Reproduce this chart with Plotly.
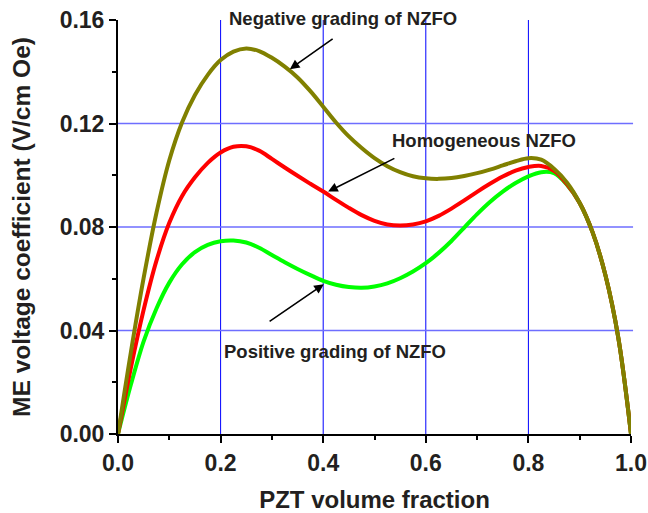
import plotly.graph_objects as go

# ---- data (x step 0.025) ----
x_vals = [round(i * 0.025, 3) for i in range(41)]
y_neg = [0, 0.0315, 0.0603, 0.0855, 0.1058, 0.1205, 0.1310, 0.1388, 0.1445, 0.1478,
         0.1490, 0.1480, 0.1454, 0.1420, 0.1378, 0.1325, 0.1265, 0.1204, 0.1150, 0.1105,
         0.1066, 0.1035, 0.1012, 0.0996, 0.0988, 0.0986, 0.0989, 0.0997, 0.1008, 0.1022,
         0.1038, 0.1054, 0.1066, 0.1060, 0.1025, 0.0972, 0.0893, 0.0780, 0.0615, 0.0375, 0]
y_hom = [0, 0.0255, 0.0480, 0.0670, 0.0816, 0.0920, 0.0992, 0.1048, 0.1088, 0.1110,
         0.1112, 0.1095, 0.1063, 0.1030, 0.0998, 0.0967, 0.0937, 0.0905, 0.0874, 0.0846,
         0.0824, 0.0810, 0.0806, 0.0810, 0.0822, 0.0843, 0.0871, 0.0903, 0.0936, 0.0967,
         0.0995, 0.1018, 0.1032, 0.1036, 0.1017, 0.0966, 0.0893, 0.0780, 0.0615, 0.0375, 0]
y_pos = [0, 0.0190, 0.0358, 0.0485, 0.0585, 0.0656, 0.0703, 0.0731, 0.0745, 0.0748,
         0.0740, 0.0720, 0.0692, 0.0664, 0.0638, 0.0614, 0.0592, 0.0577, 0.0568, 0.0565,
         0.0570, 0.0582, 0.0602, 0.0628, 0.0660, 0.0700, 0.0746, 0.0798, 0.0850, 0.0897,
         0.0937, 0.0970, 0.0996, 0.1012, 0.1008, 0.0964, 0.0893, 0.0780, 0.0615, 0.0375, 0]

x_range = [0, 1]
y_range = [0, 0.16]
x_ticks = [0.0, 0.2, 0.4, 0.6, 0.8, 1.0]
x_tick_text = ["0.0", "0.2", "0.4", "0.6", "0.8", "1.0"]
y_ticks = [0.00, 0.04, 0.08, 0.12, 0.16]
y_tick_text = ["0.00", "0.04", "0.08", "0.12", "0.16"]
x_grid = [0.2, 0.4, 0.6, 0.8]
y_grid = [0.04, 0.08, 0.12]

labels = ["Negative grading of NZFO", "Homogeneous NZFO", "Positive grading of NZFO"]
label_pos = [(0.213, 0.1606), (0.531, 0.1136), (0.203, 0.0319)]
# arrow (head_x, head_y, tail_x, tail_y)
arrows = [(0.335, 0.141, 0.4213, 0.1531),
          (0.4096, 0.0937, 0.5417, 0.1068),
          (0.4012, 0.0579, 0.2926, 0.0431)]

FONT = "Liberation Sans, Arial, sans-serif"
TXT = "#231f20"

fig = go.Figure()
for ys, col in [(y_pos, "#00ff00"), (y_hom, "#ff0000"), (y_neg, "#808000")]:
    fig.add_trace(go.Scatter(x=x_vals, y=ys, mode="lines",
                             line=dict(color=col, width=4, shape="spline", smoothing=1.0),
                             showlegend=False, hoverinfo="skip"))

# grid lines (vertical: pure blue, horizontal: lighter blue), no lines on the frame edges
for gx in x_grid:
    fig.add_shape(type="line", xref="x", yref="paper", x0=gx, x1=gx, y0=0, y1=1,
                  line=dict(color="#0000ff", width=1), layer="below")
for gy in y_grid:
    fig.add_shape(type="line", xref="paper", yref="y", x0=0, x1=1.004, y0=gy, y1=gy,
                  line=dict(color="#6e6eff", width=1.5), layer="below")

for (tx, ty), t in zip(label_pos, labels):
    fig.add_annotation(x=tx, y=(ty - y_range[0]) / (y_range[1] - y_range[0]), xref="x", yref="paper",
                       text=t, showarrow=False, xanchor="left", yanchor="middle",
                       font=dict(family=FONT, size=18.5, color=TXT, weight="bold"))
for hx, hy, tx, ty in arrows:
    fig.add_annotation(x=hx, y=hy, ax=tx, ay=ty, xref="x", yref="y", axref="x", ayref="y", text="",
                       showarrow=True, arrowhead=2, arrowsize=1.2, arrowwidth=1.6, arrowcolor="black", standoff=0)

fig.update_layout(
    width=648, height=513,
    margin=dict(l=118, r=17, t=20, b=79),
    paper_bgcolor="white", plot_bgcolor="white",
    xaxis=dict(range=x_range, tickvals=x_ticks, ticktext=x_tick_text, showgrid=False, zeroline=False,
               automargin=False,
               showline=True, linewidth=2, linecolor="black", ticks="outside", ticklen=7, tickwidth=2,
               tickcolor="black",
               minor=dict(dtick=0.1, ticks="outside", ticklen=4, tickwidth=2, tickcolor="black", showgrid=False),
               tickfont=dict(family=FONT, size=23, color=TXT, weight="bold"),
               title=dict(text="PZT volume fraction", standoff=17,
                          font=dict(family=FONT, size=24, color=TXT, weight="bold"))),
    yaxis=dict(range=y_range, tickvals=y_ticks, ticktext=y_tick_text, showgrid=False, zeroline=False,
               automargin=False,
               showline=True, linewidth=2, linecolor="black", ticks="outside", ticklen=7, tickwidth=2,
               tickcolor="black",
               minor=dict(dtick=0.02, ticks="outside", ticklen=4, tickwidth=2, tickcolor="black", showgrid=False),
               tickfont=dict(family=FONT, size=23, color=TXT, weight="bold"),
               title=dict(text="ME voltage coefficient (V/cm Oe)", standoff=22,
                          font=dict(family=FONT, size=24.5, color=TXT, weight="bold"))),
)

fig.write_html("out.html")
